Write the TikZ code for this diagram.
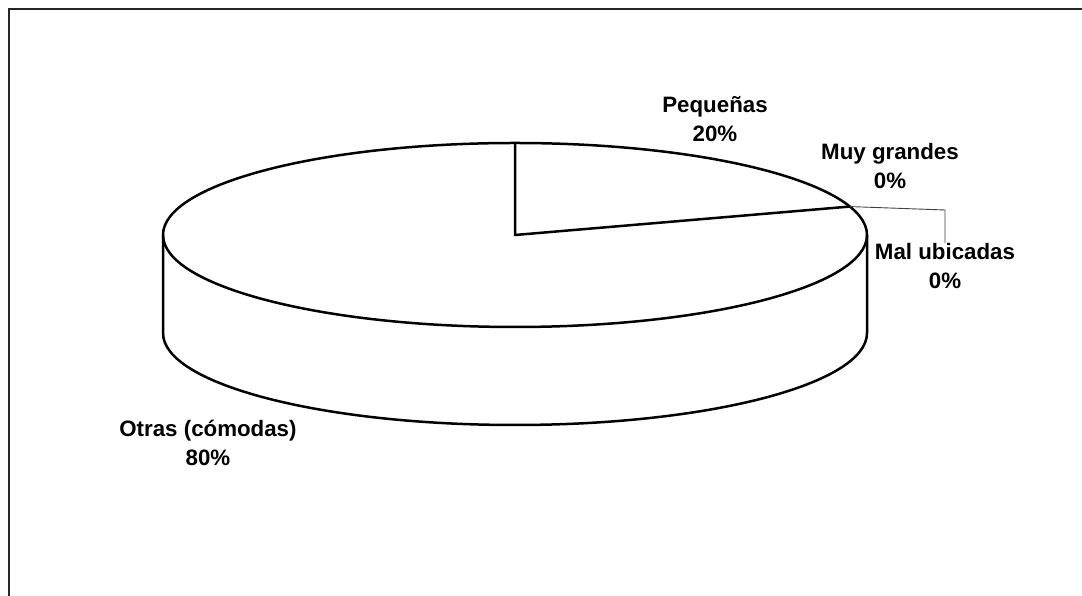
\documentclass[tikz,border=0pt]{standalone}
\usepackage{fontspec}
\setmainfont{Liberation Sans}
\usetikzlibrary{calc}
\begin{document}
\begin{tikzpicture}[x=1pt,y=1pt,
  lbl/.style={font=\fontsize{22.3}{29}\selectfont\bfseries,align=center,inner sep=0pt},
  pie/.style={line width=2.5pt,line join=round},
  leader/.style={line width=0.9pt,draw=black!75}]
\useasboundingbox (0,0) rectangle (1082,596);
\draw[line width=2.2pt,draw=black!85] (9,-2) -- (9,587) -- (1084,587);
\coordinate (c) at (515,361);
\coordinate (cb) at (515,263);
\draw[pie] (c) ellipse [x radius=352, y radius=92];
\draw[pie] (163,361) -- (163,263) arc[start angle=180,end angle=360,x radius=352,y radius=92] -- (867,361);
\coordinate (t) at ($(c)+(90:352 and 92)$);
\coordinate (s) at ($(c)+(18:352 and 92)$);
\draw[pie] (t) -- (c) -- (s);
\node[lbl] (peq) at (715,477) {Peque\~nas\\20\%};
\node[lbl] (muy) at (890,430) {Muy grandes\\0\%};
\node[lbl] (mal) at (945,330) {Mal ubicadas\\0\%};
\node[lbl] (otr) at (208,153) {Otras (c\'omodas)\\80\%};
\coordinate (k) at (945,386);
\draw[leader] (s) -- (k) -- (mal.north -| k);
\end{tikzpicture}
\end{document}
